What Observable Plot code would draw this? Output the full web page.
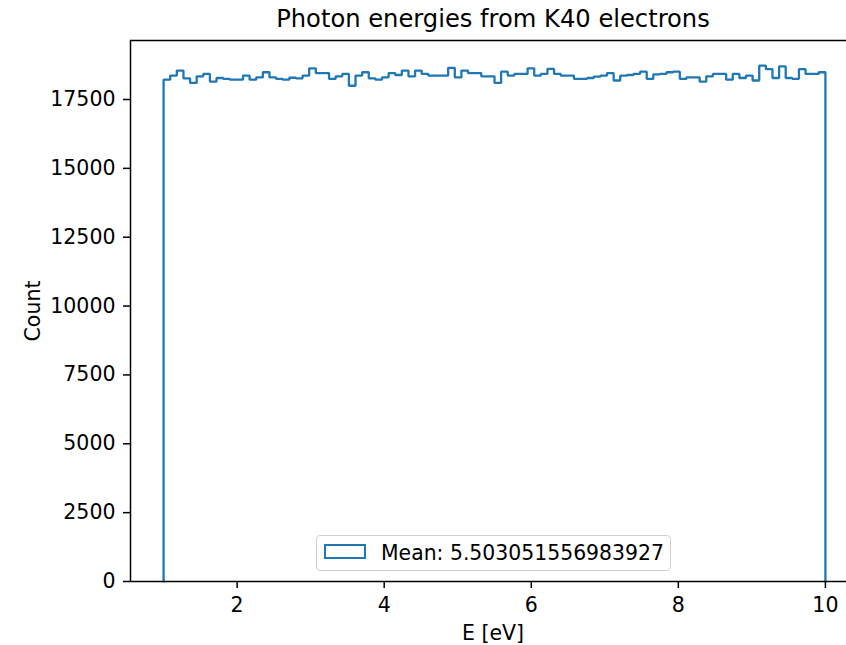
<!DOCTYPE html>
<html>
<head>
<meta charset="utf-8">
<script src="https://cdn.jsdelivr.net/npm/d3@7"></script>
<script src="https://cdn.jsdelivr.net/npm/@observablehq/plot@0.6"></script>
<style>
  html, body { margin: 0; padding: 0; background: white; }
  #wrap { position: relative; width: 846px; height: 645px; overflow: hidden; font-family: "DejaVu Sans", sans-serif; color: black; }
  #title { position: absolute; left: 140px; width: 706px; top: 0; height: 39px; line-height: 39px; text-align: center; font-size: 24.2px; }
  #chart { position: absolute; left: 0; top: 30px; }
  #ylabel { position: absolute; left: 33px; top: 311px; transform: translate(-50%, -50%) rotate(-90deg); font-size: 20.5px; white-space: nowrap; }
  #xlabel { position: absolute; left: 493px; top: 633px; transform: translate(-50%, -50%); font-size: 20.5px; white-space: nowrap; }
  #legend { position: absolute; left: 316px; top: 535px; width: 355px; height: 36px; box-sizing: border-box; border: 1px solid #d0d0d0; border-radius: 4px; background: rgba(255,255,255,0.8); }
  #patch { position: absolute; left: 7px; top: 8px; width: 42px; height: 15px; box-sizing: border-box; border: 2px solid #1f77b4; }
  #ltext { position: absolute; left: 64px; top: 0; height: 34px; line-height: 34px; font-size: 20.4px; white-space: nowrap; }
</style>
</head>
<body>
<div id="wrap">
  <div id="title"></div>
  <div id="chart"></div>
  <div id="ylabel"></div>
  <div id="xlabel"></div>
  <div id="legend"><div id="patch"></div><div id="ltext"></div></div>
</div>
<script>
// ---- data ----
const title = "Photon energies from K40 electrons";
const xLabel = "E [eV]";
const yLabel = "Count";
const legendLabel = "Mean: 5.503051556983927";
const binStart = 1;
const binWidth = 0.09;
const counts = [
  18220, 18370, 18550, 18270, 18100, 18340, 18430, 18150, 18280, 18250,
  18220, 18220, 18370, 18220, 18300, 18490, 18300, 18250, 18220, 18290,
  18270, 18370, 18630, 18460, 18460, 18250, 18340, 18430, 18000, 18370,
  18490, 18270, 18220, 18300, 18460, 18390, 18550, 18340, 18550, 18430,
  18370, 18370, 18370, 18650, 18300, 18550, 18460, 18460, 18340, 18340,
  18100, 18510, 18370, 18430, 18430, 18630, 18370, 18430, 18610, 18430,
  18370, 18370, 18250, 18250, 18280, 18330, 18370, 18460, 18190, 18370,
  18390, 18430, 18510, 18250, 18410, 18430, 18490, 18510, 18250, 18300,
  18300, 18150, 18340, 18430, 18430, 18220, 18430, 18280, 18370, 18190,
  18730, 18600, 18280, 18700, 18280, 18250, 18600, 18430, 18430, 18490
];
const xTicks = [2, 4, 6, 8, 10];
const yTicks = [0, 2500, 5000, 7500, 10000, 12500, 15000, 17500];

// ---- build step outline ----
const n = counts.length;
const binEnd = binStart + n * binWidth;
const pts = [{x: binStart, y: 0}];
counts.forEach((c, i) => pts.push({x: binStart + i * binWidth, y: c}));
pts.push({x: binEnd, y: counts[n - 1]});
pts.push({x: binEnd, y: 0});

const pad = (binEnd - binStart) * 0.05;

const chart = Plot.plot({
  width: 846,
  height: 615,
  marginLeft: 130,
  marginRight: -12,
  marginTop: 10,
  marginBottom: 64,
  style: {fontFamily: "DejaVu Sans", fontSize: "20.5px", color: "black", background: "transparent", overflow: "visible"},
  x: {domain: [binStart - pad, binEnd + pad]},
  y: {domain: [0, 19642]},
  marks: [
    Plot.line(pts, {x: "x", y: "y", curve: "step-after", stroke: "#1f77b4", strokeWidth: 2.3, strokeLinejoin: "miter"}),
    Plot.frame({stroke: "black", strokeWidth: 1.5}),
    Plot.axisX({ticks: xTicks, tickFormat: d => String(d), tickSize: 7, tickPadding: 9, label: null, strokeWidth: 1.5, fontSize: "20.5px"}),
    Plot.axisY({ticks: yTicks, tickFormat: d3.format("d"), tickSize: 7, tickPadding: 8, label: null, strokeWidth: 1.5, fontSize: "20.5px"})
  ]
});
document.getElementById("chart").appendChild(chart);
document.getElementById("title").textContent = title;
document.getElementById("xlabel").textContent = xLabel;
document.getElementById("ylabel").textContent = yLabel;
document.getElementById("ltext").textContent = legendLabel;
</script>
</body>
</html>
